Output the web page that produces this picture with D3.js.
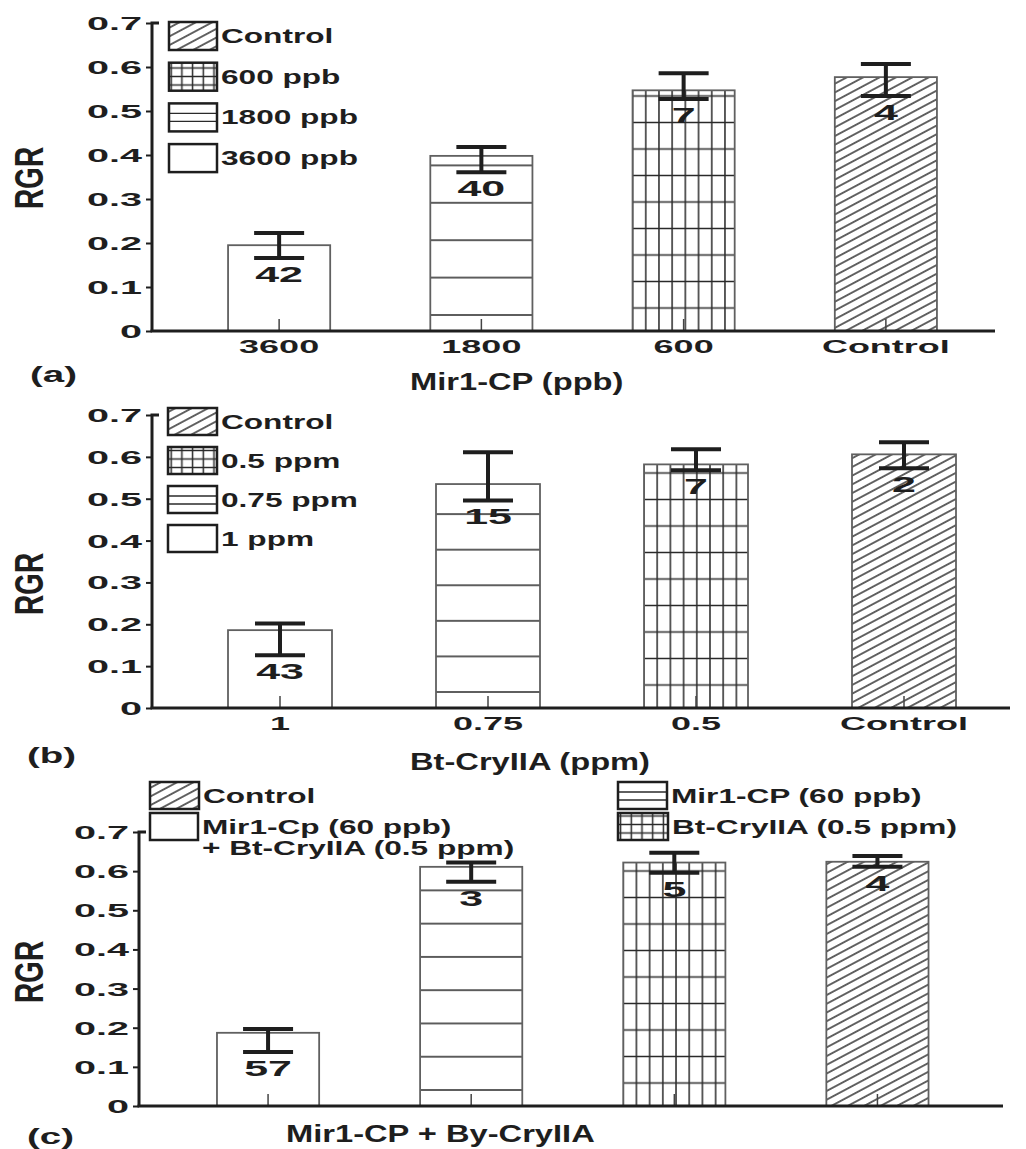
<!DOCTYPE html>
<html>
<head>
<meta charset="utf-8">
<script src="https://cdn.jsdelivr.net/npm/d3@7"></script>
<style>
    body { margin: 0; background: #fff; }
    svg text { font-family: "Liberation Sans", Arial, sans-serif; font-weight: bold; fill: #1e1e1e; }
</style>
</head>
<body>
<div id="chart"></div>
<script>

// (a) Mir1-CP
const catsA = ["3600", "1800", "600", "Control"];
const rgrA = [0.195, 0.398, 0.547, 0.577];
const hiA = [0.223, 0.418, 0.586, 0.607];
const loA = [0.166, 0.361, 0.527, 0.534];
const nA = [42, 40, 7, 4];
const legendA = ["Control", "600 ppb", "1800 ppb", "3600 ppb"];

// (b) Bt-CryIIA
const catsB = ["1", "0.75", "0.5", "Control"];
const rgrB = [0.186, 0.535, 0.582, 0.606];
const hiB = [0.202, 0.611, 0.618, 0.635];
const loB = [0.126, 0.496, 0.568, 0.573];
const nB = [43, 15, 7, 2];
const legendB = ["Control", "0.5 ppm", "0.75 ppm", "1 ppm"];

// (c) Mir1-CP + Bt-CryIIA
const catsC = ["Mir1-Cp + Bt-CryIIA", "Mir1-CP", "Bt-CryIIA", "Control"];
const rgrC = [0.187, 0.611, 0.622, 0.624];
const hiC = [0.197, 0.622, 0.647, 0.639];
const loC = [0.138, 0.573, 0.596, 0.611];
const nC = [57, 3, 5, 4];
const legendC = ["Control", "Mir1-Cp (60 ppb)|+ Bt-CryIIA (0.5 ppm)", "Mir1-CP (60 ppb)", "Bt-CryIIA (0.5 ppm)"];

const yTicks = [0, 0.1, 0.2, 0.3, 0.4, 0.5, 0.6, 0.7];
// fill of each bar, same order in every panel
const barFills = ["none", "hline", "grid", "diag"];

const W = 1026, H = 1149;
const ink = "#1e1e1e";
const hatch = "#2a2a2a";

const svg = d3.select("#chart").append("svg")
    .attr("width", W)
    .attr("height", H);

const defs = svg.append("defs");

// diagonal hatch shared by all panels
let diag = defs.append("pattern")
    .attr("id", "diag")
    .attr("patternUnits", "userSpaceOnUse")
    .attr("width", 40).attr("height", 7.7)
    .attr("patternTransform", "rotate(-28)");
diag.append("rect").attr("width", 40).attr("height", 7.7).attr("fill", "#fff");
diag.append("line")
    .attr("x1", 0).attr("x2", 40).attr("y1", 3.85).attr("y2", 3.85)
    .attr("stroke", hatch).attr("stroke-width", 1.5);

// small grid for legend swatches
let gridL = defs.append("pattern")
    .attr("id", "gridL")
    .attr("patternUnits", "userSpaceOnUse")
    .attr("x", -5.35).attr("y", -4.25)
    .attr("width", 10.7).attr("height", 8.5);
gridL.append("rect").attr("width", 10.7).attr("height", 8.5).attr("fill", "#fff");
gridL.append("path").attr("d", "M5.35,0V8.5M0,4.25H10.7")
    .attr("stroke", hatch).attr("stroke-width", 1.5).attr("fill", "none");

// text squeezed / stretched horizontally like the scanned figure
function wideText(parent, x, y, str, size, k, anchor) {
    return parent.append("text")
        .attr("transform", "translate(" + x + "," + y + ") scale(" + k + ",1)")
        .attr("text-anchor", anchor || "start")
        .style("font-size", size + "px")
        .text(str);
}

function swatch(g, x, y, w, h, type) {
    let fill = "#fff";
    if (type === "diag") fill = "url(#diag)";
    if (type === "grid") fill = "url(#gridL)";
    g.append("rect")
        .attr("x", x).attr("y", y).attr("width", w).attr("height", h)
        .attr("fill", fill);
    if (type === "hline") {
        [10, 18].forEach(function (dy) {
            g.append("line")
                .attr("x1", x).attr("x2", x + w)
                .attr("y1", y + dy).attr("y2", y + dy)
                .attr("stroke", hatch).attr("stroke-width", 1.4);
        });
    }
    g.append("rect")
        .attr("x", x).attr("y", y).attr("width", w).attr("height", h)
        .attr("fill", "none")
        .attr("stroke", ink).attr("stroke-width", 2.5);
}

function drawPanel(p) {
    let g = svg.append("g").attr("class", "panel-" + p.id);

    let y = d3.scaleLinear()
        .domain([0, 0.7])
        .range([p.y0, p.y7]);

    let x = d3.scaleBand()
        .domain(p.cats)
        .range(p.xRange)
        .paddingInner(p.pad)
        .paddingOuter(p.pad / 2);

    let bw = x.bandwidth();

    // per-panel patterns, lines kept in the middle of each tile
    let hSpace = y(0) - y(0.085);
    let hl = defs.append("pattern")
        .attr("id", "hline-" + p.id)
        .attr("patternUnits", "userSpaceOnUse")
        .attr("x", 0).attr("y", p.y0 - 16 - hSpace / 2)
        .attr("width", 20).attr("height", hSpace);
    hl.append("rect").attr("width", 20).attr("height", hSpace).attr("fill", "#fff");
    hl.append("line").attr("x1", 0).attr("x2", 20).attr("y1", hSpace / 2).attr("y2", hSpace / 2)
        .attr("stroke", hatch).attr("stroke-width", 1.5);

    let gw = 13.2, gh = 26.5;
    let gr = defs.append("pattern")
        .attr("id", "grid-" + p.id)
        .attr("patternUnits", "userSpaceOnUse")
        .attr("x", x(p.cats[2]) - gw / 2).attr("y", p.y0 - 23 - gh / 2)
        .attr("width", gw).attr("height", gh);
    gr.append("rect").attr("width", gw).attr("height", gh).attr("fill", "#fff");
    gr.append("path").attr("d", "M" + gw / 2 + ",0V" + gh + "M0," + gh / 2 + "H" + gw)
        .attr("stroke", hatch).attr("stroke-width", 1.5).attr("fill", "none");

    let fillOf = function (t) {
        if (t === "diag") return "url(#diag)";
        if (t === "grid") return "url(#grid-" + p.id + ")";
        if (t === "hline") return "url(#hline-" + p.id + ")";
        return "#fff";
    };

    let rows = p.cats.map(function (c, i) {
        return { cat: c, v: p.vals[i], hi: p.hi[i], lo: p.lo[i], n: p.n[i], fill: barFills[i] };
    });

    // bars
    g.selectAll("rect.bar")
        .data(rows)
        .enter().append("rect")
        .attr("class", "bar")
        .attr("x", d => x(d.cat))
        .attr("y", d => y(d.v))
        .attr("width", bw)
        .attr("height", d => y(0) - y(d.v))
        .attr("fill", d => fillOf(d.fill))
        .attr("stroke", "#606060")
        .attr("stroke-width", 1.8);

    // x axis: inward tick marks at bar centres, labels below
    let xAxis = d3.axisBottom(x).tickSizeInner(-12).tickSizeOuter(0);
    let xg = g.append("g")
        .attr("class", "x-axis axis")
        .attr("transform", "translate(0," + p.y0 + ")")
        .call(xAxis);
    xg.select(".domain").remove();
    xg.selectAll(".tick line").attr("stroke", "#444").attr("stroke-width", 1.5);
    xg.selectAll(".tick text")
        .attr("y", 0).attr("dy", null)
        .attr("transform", "translate(0,22) scale(2,1)")
        .style("font-size", "18px")
        .style("font-family", "'Liberation Sans', Arial, sans-serif")
        .style("font-weight", "bold")
        .attr("fill", ink)
        .style("display", p.showTicks ? null : "none");

    g.append("line")
        .attr("x1", p.axisX - 1.5).attr("x2", p.axisEnd)
        .attr("y1", p.y0).attr("y2", p.y0)
        .attr("stroke", ink).attr("stroke-width", 3);

    // y axis
    let yAxis = d3.axisLeft(y).tickValues(yTicks).tickSizeOuter(0).tickSizeInner(6)
        .tickFormat(d => d === 0 ? "0" : d3.format(".1f")(d));
    let yg = g.append("g")
        .attr("class", "y-axis axis")
        .attr("transform", "translate(" + p.axisX + ",0)")
        .call(yAxis);
    yg.select(".domain").remove();
    yg.selectAll(".tick line").attr("stroke", ink).attr("stroke-width", 2);
    yg.selectAll(".tick text")
        .attr("x", 0).attr("dy", "0.36em")
        .attr("transform", "translate(-10,0) scale(2.2,1)")
        .style("font-size", "18px")
        .style("font-family", "'Liberation Sans', Arial, sans-serif")
        .style("font-weight", "bold")
        .attr("fill", ink);
    g.append("path")
        .attr("d", "M" + (p.axisX + 7) + "," + y(0.7) + "H" + p.axisX + "V" + p.y0)
        .attr("fill", "none")
        .attr("stroke", ink).attr("stroke-width", 3);

    // error bars
    let err = g.selectAll("g.err")
        .data(rows)
        .enter().append("g")
        .attr("class", "err")
        .attr("transform", d => "translate(" + (x(d.cat) + bw / 2) + ",0)");
    err.append("path")
        .attr("d", d => "M-25," + y(d.hi) + "H25M0," + y(d.hi) + "V" + y(d.lo) + "M-25," + y(d.lo) + "H25")
        .attr("fill", "none")
        .attr("stroke", ink).attr("stroke-width", 4);

    // sample sizes
    rows.forEach(function (d) {
        wideText(g, x(d.cat) + bw / 2, y(d.lo) + 24, d.n, 22, 1.95, "middle");
    });

    // axis title, panel letter, RGR
    wideText(g, p.titleX, p.titleY, p.title, 23, 1.42, "start");
    wideText(g, p.letterX, p.letterY, "(" + p.id + ")", 22, 1.75, "start");
    g.append("text")
        .attr("transform", "translate(43," + p.rgrY + ") rotate(-90) scale(0.7,1)")
        .attr("text-anchor", "middle")
        .style("font-size", "40px")
        .text("RGR");

    // legend
    p.legend.forEach(function (item) {
        swatch(g, item.x, item.y, item.w, item.h, item.type);
        item.text.split("|").forEach(function (line, j) {
            wideText(g, item.x + item.w + 4, item.y + 21 + j * 21, line, 20, 1.58, "start");
        });
    });
}

function stackLegend(labels, x, top, step, w, h) {
    let types = ["diag", "grid", "hline", "none"];
    return labels.map(function (t, i) {
        return { text: t, type: types[i], x: x, y: top + i * step, w: w, h: h };
    });
}

drawPanel({
    id: "a", cats: catsA, vals: rgrA, hi: hiA, lo: loA, n: nA,
    y0: 331, y7: 23, axisX: 152, axisEnd: 995,
    xRange: [178, 987], pad: 0.495, showTicks: true,
    title: "Mir1-CP (ppb)", titleX: 410, titleY: 390,
    letterX: 30, letterY: 382, rgrY: 178,
    legend: stackLegend(legendA, 169, 22, 40.7, 48, 28)
});

drawPanel({
    id: "b", cats: catsB, vals: rgrB, hi: hiB, lo: loB, n: nB,
    y0: 708, y7: 415, axisX: 152, axisEnd: 1010,
    xRange: [176, 1008], pad: 0.5, showTicks: true,
    title: "Bt-CryIIA (ppm)", titleX: 410, titleY: 770,
    letterX: 27, letterY: 763, rgrY: 584,
    legend: stackLegend(legendB, 168, 408, 39, 49, 27)
});

drawPanel({
    id: "c", cats: catsC, vals: rgrC, hi: hiC, lo: loC, n: nC,
    y0: 1106, y7: 832, axisX: 139, axisEnd: 1003,
    xRange: [166.5, 979], pad: 0.497, showTicks: false,
    title: "Mir1-CP + By-CryIIA", titleX: 286, titleY: 1142,
    letterX: 27, letterY: 1144, rgrY: 972,
    legend: [
        { text: legendC[0], type: "diag", x: 150, y: 782, w: 49, h: 27 },
        { text: legendC[1], type: "none", x: 150, y: 813, w: 48, h: 27 },
        { text: legendC[2], type: "hline", x: 618, y: 782, w: 49, h: 27 },
        { text: legendC[3], type: "grid", x: 618, y: 813, w: 50, h: 27 }
    ]
});

</script>
</body>
</html>
